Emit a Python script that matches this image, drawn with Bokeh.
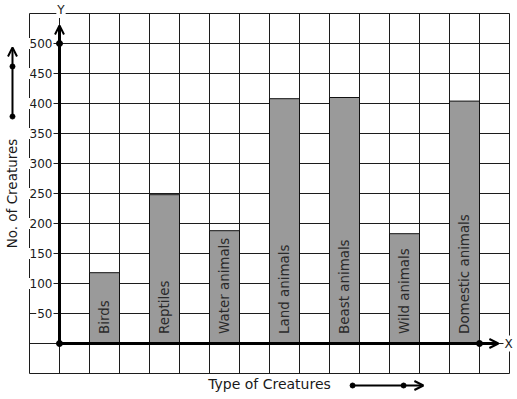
import numpy as np
from bokeh.plotting import figure
from bokeh.models import Range1d, Arrow, OpenHead
from bokeh.core.properties import value
from bokeh.embed import file_html
from bokeh.resources import INLINE

categories = ["Birds", "Reptiles", "Water animals", "Land animals",
              "Beast animals", "Wild animals", "Domestic animals"]
counts = [118, 248, 188, 408, 410, 183, 404]
y_ticks = [50, 100, 150, 200, 250, 300, 350, 400, 450, 500]
y_tick_labels = [str(v) for v in y_ticks]

FONT = value("DejaVu Sans")
LINE = "#1c1c1c"

p = figure(width=517, height=399, x_range=Range1d(-59 / 30, 458 / 30),
           y_range=Range1d(-56 / 0.6, 343 / 0.6), output_backend="svg",
           toolbar_location=None, min_border=0, x_axis_type=None,
           y_axis_type=None)
p.grid.visible = False
p.outline_line_color = None

# grid
gx = np.arange(-1, 16)
gy = np.arange(-50, 551, 50)
p.segment(x0=gx, y0=-50, x1=gx, y1=550, line_color=LINE, line_width=1)
p.segment(x0=-1, y0=gy, x1=15, y1=gy, line_color=LINE, line_width=1)

# bars
centers = [2 * i + 1.5 for i in range(len(categories))]
p.vbar(x=centers, top=counts, bottom=0, width=1, fill_color="#9a9a9a",
       line_color="#111111", line_width=1)
p.text(x=centers, y=16, text=categories, angle=np.pi / 2, text_align="left",
       text_baseline="middle", text_font_size="13.4px", text_color="#2a2a2a",
       text_font=FONT)

# axes
p.add_layout(Arrow(end=OpenHead(size=9, line_width=2, line_color="black"),
                   x_start=0, y_start=0, x_end=14.63, y_end=0,
                   line_width=3, line_color="black"))
p.add_layout(Arrow(end=OpenHead(size=9, line_width=2, line_color="black"),
                   x_start=0, y_start=0, x_end=0, y_end=530,
                   line_width=3, line_color="black"))
p.scatter(x=[0, 14, 0], y=[0, 0, 500], size=6, color="black")

# tick labels
p.text(x=-0.2, y=y_ticks, text=y_tick_labels, text_align="right",
       text_baseline="middle", text_font_size="12px", text_color="#1a1a1a",
       text_font=FONT, background_fill_color="white", padding=1)

p.text(x=[0.05], y=[556], text=["Y"], text_align="center",
       text_baseline="middle", text_font_size="12px", text_color="#1a1a1a",
       text_font=FONT, background_fill_color="white", padding=1)
p.text(x=[14.97], y=[0], text=["X"], text_align="center",
       text_baseline="middle", text_font_size="12px", text_color="#1a1a1a",
       text_font=FONT, background_fill_color="white", padding=1)

# axis titles
p.text(x=[-1.567], y=[250], text=["No. of Creatures"], angle=np.pi / 2,
       text_align="center", text_baseline="middle", text_font_size="13.5px",
       text_color="#1a1a1a", text_font=FONT)
p.add_layout(Arrow(end=OpenHead(size=9, line_width=2, line_color="black"),
                   x_start=-1.567, y_start=378.3, x_end=-1.567, y_end=493.3,
                   line_width=2, line_color="black"))
p.scatter(x=[-1.567, -1.567], y=[378.3, 461.7], size=5, color="black")

p.text(x=[7.0], y=[-67.5], text=["Type of Creatures"], text_align="center",
       text_baseline="middle", text_font_size="14px", text_color="#1a1a1a",
       text_font=FONT)
p.add_layout(Arrow(end=OpenHead(size=9, line_width=2, line_color="black"),
                   x_start=9.77, y_start=-70, x_end=12.13, y_end=-70,
                   line_width=2, line_color="black"))
p.scatter(x=[9.77, 11.47], y=[-70, -70], size=5, color="black")

open("out.html", "w").write(file_html(p, INLINE))
